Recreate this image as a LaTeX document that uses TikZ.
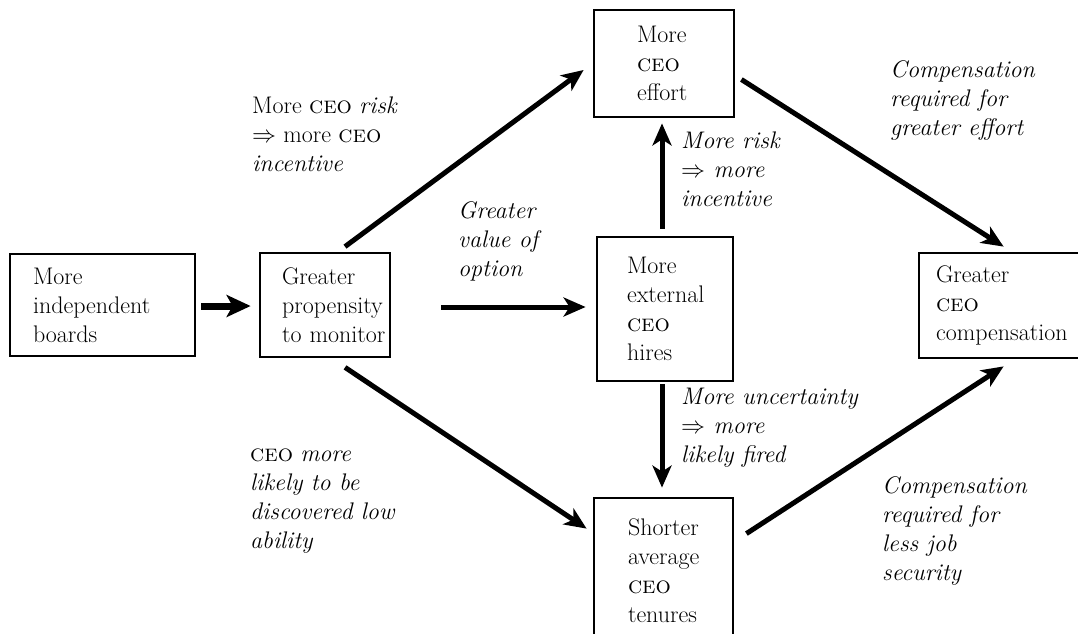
\RequirePackage{fix-cm}
\documentclass[tikz,border=0pt]{standalone}
\usepackage{fontspec}
\usetikzlibrary{arrows.meta,calc}
\begin{document}
\begin{tikzpicture}[x=1pt,y=-1pt,
  box/.style={draw, line width=2.8pt, align=left, inner sep=0pt, font=\fontsize{24}{29}\selectfont},
  lbl/.style={anchor=base west, align=left, inner sep=0pt, font=\fontsize{24}{29}\selectfont},
  arr/.style={line width=5pt, -{Stealth[length=22pt,width=19pt,inset=6pt]}},
  bigarr/.style={line width=7pt, -{Stealth[length=24pt,width=22pt,inset=6pt]}}]
\useasboundingbox (0,0) rectangle (1078,633);

% boxes
\node[box, minimum width=185pt, minimum height=102pt, text width=139pt] (A) at (102.5,305) {\mbox{More}\\\mbox{independent}\\\mbox{boards}};
\node[box, minimum width=130pt, minimum height=104pt, text width=86pt] (B) at (325,305) {\mbox{Greater}\\\mbox{propensity}\\\mbox{to monitor}};
\node[box, minimum width=140pt, minimum height=107pt, text width=54pt] (C) at (664,63.5) {\mbox{More}\\\mbox{\textsc{ceo}}\\\mbox{effort}};
\node[box, minimum width=136pt, minimum height=144pt, text width=76pt] (D) at (665,309) {\mbox{More}\\\mbox{external}\\\mbox{\textsc{ceo}}\\\mbox{hires}};
\node[box, minimum width=166pt, minimum height=105pt, text width=132pt] (E) at (1002,305.5) {\mbox{Greater}\\\mbox{\textsc{ceo}}\\\mbox{compensation}};
\node[box, minimum width=139pt, minimum height=145pt, text width=71pt] (F) at (663.5,570.5) {\mbox{Shorter}\\\mbox{average}\\\mbox{\textsc{ceo}}\\\mbox{tenures}};

% connectors
\draw[bigarr] ($(A.east)+(5,1)$) -- ($(B.west)+(-8,1)$);
\draw[arr] ($(B.east)+(50,2)$) -- ($(D.west|-B.east)+(-10,2)$);
\draw[arr] ($(B.north)+(20,-5)$) -- ($(C.west)+(-9,6.5)$);
\draw[arr] ($(B.south)+(20,9)$) -- ($(F.north west)+(-6,32)$);
\draw[arr] ($(D.north)+(-3,-7)$) -- ($(C.south)+(-2,5)$);
\draw[arr] ($(D.south)+(-3,2)$) -- ($(F.north)+(-1.5,-9)$);
\draw[arr] ($(C.east)+(6,16)$) -- ($(E.north west)+(86,-5)$);
\draw[arr] ($(F.north east)+(12,37)$) -- ($(E.south west)+(86,7)$);

% labels (anchored at the baseline of the last line)
\node[lbl] (l1) at (252,171) {More \textsc{ceo} \textit{risk}\\$\Rightarrow$ more \textsc{ceo}\\\textit{incentive}};
\node[lbl] (l2) at (458,276) {\itshape Greater\\\itshape value of\\\itshape option};
\node[lbl] (l3) at (681,206) {\itshape More risk\\\itshape $\Rightarrow$ more\\\itshape incentive};
\node[lbl] (l4) at (890,135) {\itshape Compensation\\\itshape required for\\\itshape greater effort};
\node[lbl] (l5) at (681,462) {\itshape More uncertainty\\\itshape $\Rightarrow$ more\\\itshape likely fired};
\node[lbl] (l6) at (250,548) {\textsc{ceo} \textit{more}\\\itshape likely to be\\\itshape discovered low\\\itshape ability};
\node[lbl] (l7) at (882,580) {\itshape Compensation\\\itshape required for\\\itshape less job\\\itshape security};
\end{tikzpicture}
\end{document}
